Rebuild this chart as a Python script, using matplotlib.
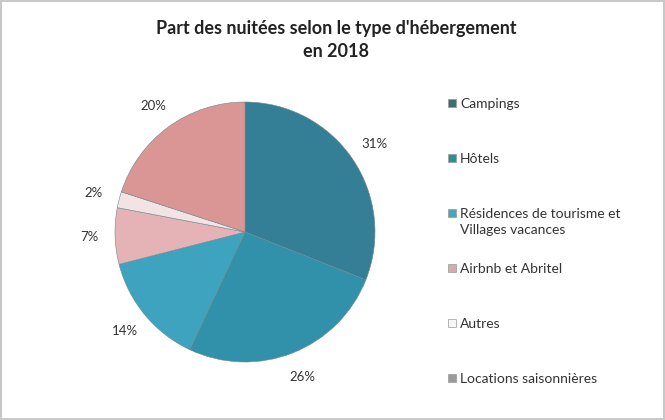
import matplotlib
matplotlib.use("Agg")
import matplotlib.pyplot as plt
from matplotlib.patches import Rectangle

plt.rcParams['font.family'] = ['Lato', 'DejaVu Sans']

# Données
categories = ["Campings", "Hôtels", "Résidences de tourisme et\nVillages vacances",
              "Airbnb et Abritel", "Autres", "Locations saisonnières"]
parts = [31, 26, 14, 7, 2, 20]
pie_colors = ["#347f96", "#3191aa", "#3ea3bf", "#e5b3b6", "#f2e4e4", "#d99694"]
legend_colors = ["#3d6f73", "#2f8f90", "#4aa5b3", "#d8aab0", "#f7f7f7", "#9a9a9a"]

W, H = 665, 420
fig = plt.figure(figsize=(W / 100, H / 100), dpi=100)
fig.patch.set_edgecolor("#c8c8c8")
fig.patch.set_linewidth(1.5)

fig.text(0.506, 1 - 40 / H, "Part des nuitées selon le type d'hébergement\nen 2018",
         ha="center", va="center", fontsize=13, fontweight="bold",
         color="#222222", linespacing=1.4)

# Camembert
cx, cy, r = 245, 232, 130
ax = fig.add_axes([(cx - r) / W, (H - cy - r) / H, 2 * r / W, 2 * r / H])
wedges, texts, autotexts = ax.pie(
    parts, colors=pie_colors, startangle=90, counterclock=False,
    autopct="%d%%", pctdistance=1.2,
    wedgeprops=dict(edgecolor="#6f8890", linewidth=0.4),
    textprops=dict(fontsize=9.5, color="#333333"))
ax.set_xlim(-1, 1)
ax.set_ylim(-1, 1)
ax.set_aspect("equal")
for t in autotexts:
    t.set_clip_on(False)

# Légende
for i, (lab, col) in enumerate(zip(categories, legend_colors)):
    y = H - (103 + 55 * i)
    fig.patches.append(Rectangle(((448) / W, (y - 4) / H), 8 / W, 8 / H,
                                 facecolor=col, edgecolor="#999999", linewidth=0.5,
                                 transform=fig.transFigure, figure=fig))
    fig.text(460 / W, (y + 5) / H, lab, ha="left", va="top",
             fontsize=10, color="#333333", linespacing=1.4)

fig.savefig("out.png", dpi=100)
